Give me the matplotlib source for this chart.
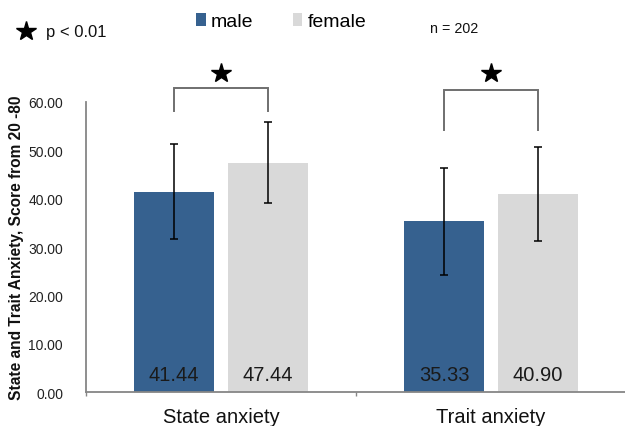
import matplotlib
matplotlib.use("Agg")
import matplotlib.pyplot as plt
from matplotlib.lines import Line2D

plt.rcParams["font.family"] = ["Liberation Sans", "DejaVu Sans"]

categories = ["State anxiety", "Trait anxiety"]
groups = ["male", "female"]
male_means = [41.44, 35.33]
female_means = [47.44, 40.90]
male_sd = [9.8, 11.1]
female_sd = [8.4, 9.7]
sample_note = "n = 202"
sig_note = "p < 0.01"
y_ticks = [0, 10, 20, 30, 40, 50, 60]

colors = {"male": "#36618F", "female": "#D9D9D9"}
axis_gray = "#868686"

fig = plt.figure(figsize=(6.25, 4.27), dpi=100)
ax = fig.add_axes([0.1376, 0.0796, 0.864, 0.6792])

x = list(range(len(categories)))
width = 0.293
offset = 0.174

male_x = [i - offset for i in x]
female_x = [i + offset for i in x]

bars_m = ax.bar(male_x, male_means, width, color=colors["male"], label=groups[0], zorder=2)
bars_f = ax.bar(female_x, female_means, width, color=colors["female"], label=groups[1], zorder=2)

ax.errorbar(male_x, male_means, yerr=male_sd, fmt="none", ecolor="black",
            elinewidth=1.1, capsize=2.6, capthick=1.1, zorder=3)
ax.errorbar(female_x, female_means, yerr=female_sd, fmt="none", ecolor="black",
            elinewidth=1.1, capsize=2.6, capthick=1.1, zorder=3)

# value labels near the base of each bar
for xs, vals in ((male_x, male_means), (female_x, female_means)):
    for xi, v in zip(xs, vals):
        ax.text(xi, 3.7, f"{v:.2f}", ha="center", va="center",
                fontsize=14.5, color="#1a1a1a", zorder=4)

# significance brackets with stars
bracket_tops = [62.8, 62.5]
bracket_feet = [58.2, 54.2]
for i in x:
    xl, xr = male_x[i], female_x[i]
    ax.plot([xl, xl, xr, xr], [bracket_feet[i], bracket_tops[i], bracket_tops[i], bracket_feet[i]],
            color="#6f6f6f", lw=1.4, clip_on=False, zorder=3, solid_joinstyle="miter")
    ax.plot([(xl + xr) / 2], [66.1], marker="*", markersize=15, color="black",
            clip_on=False, zorder=3)

ax.set_xlim(-0.5, 1.5)
ax.set_ylim(0, 60)
ax.set_yticks(y_ticks)
ax.set_yticklabels([f"{t:.2f}" for t in y_ticks])
ax.tick_params(axis="y", length=0, pad=16.5, labelsize=10, labelcolor="#222222")
ax.set_xticks(x)
ax.set_xticklabels(categories)
ax.tick_params(axis="x", which="major", length=0, pad=10.5, labelsize=14.5, labelcolor="#111111")
ax.set_xticks([-0.5, 0.5, 1.5], minor=True)
ax.tick_params(axis="x", which="minor", length=3, width=1, color=axis_gray, direction="out")

for side in ("top", "right"):
    ax.spines[side].set_visible(False)
for side in ("left", "bottom"):
    ax.spines[side].set_color(axis_gray)
    ax.spines[side].set_linewidth(1.3)

fig.text(17 / 625, 1 - 248 / 427, "State and Trait Anxiety, Score from 20 -80",
         rotation=90, ha="center", va="center", fontsize=11.2, fontweight="bold",
         color="#111111")

leg = fig.legend(handles=[bars_m, bars_f], labels=groups, loc="center",
                 bbox_to_anchor=(0.45, 0.948), ncol=2, frameon=False, fontsize=14,
                 handlelength=0.5, handleheight=0.65, handletextpad=0.26,
                 columnspacing=2.0, borderpad=0, borderaxespad=0)

fig.text(430 / 625, 1 - 29 / 427, sample_note, ha="left", va="center",
         fontsize=10.3, color="#111111")

fig.add_artist(Line2D([26 / 625], [1 - 32 / 427], marker="*", markersize=15,
                      color="black", transform=fig.transFigure))
fig.text(46 / 625, 1 - 32 / 427, sig_note, ha="left", va="center",
         fontsize=12, color="#111111")

fig.savefig("out.png", dpi=100)
